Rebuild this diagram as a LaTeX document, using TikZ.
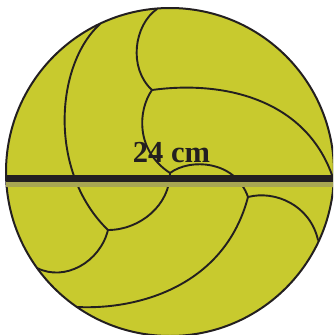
\documentclass[tikz,border=0pt]{standalone}
\usepackage{fontspec}
\setmainfont{Liberation Serif}
\definecolor{ballfill}{RGB}{200,202,46}
\definecolor{ink}{RGB}{35,31,32}
\definecolor{shade}{RGB}{168,166,82}

\begin{document}
\begin{tikzpicture}[x=1pt,y=-1pt,
  seam/.style={draw=ink,line width=1.9pt,line cap=round},
  rim/.style={draw=ink,line width=2pt},
  bar/.style={draw=ink,line width=7.2pt},
  barshade/.style={draw=shade,line width=5pt},
  measure/.style={font=\bfseries\fontsize{30.5}{31}\selectfont,text=ink,anchor=base,inner sep=0pt}]
\useasboundingbox (0,0) rectangle (333,335);
\clip (0,0) rectangle (333,335);

% ball body
\coordinate (O) at (170,172);
\fill[ballfill] (O) circle[radius=164pt];

% seam junctions and rim points
\coordinate (J1) at (152,90);
\coordinate (J2) at (170,173);
\coordinate (J3) at (248,197);
\coordinate (J4) at (108,230);
\coordinate (T1) at (157,9);
\coordinate (T2) at (100,24);
\coordinate (R1) at (332,175);
\coordinate (R2) at (318,240);
\coordinate (L1) at (37,268);
\coordinate (B1) at (77,307);

% panel seams
\draw[seam] (T1) .. controls (134,25) and (128,68) .. (J1);
\draw[seam] (J1) .. controls (225,80) and (305,100) .. (R1);
\draw[seam] (J1) .. controls (138,110) and (135,150) .. (J2);
\draw[seam] (J2) .. controls (190,158) and (235,160) .. (J3);
\draw[seam] (J2) .. controls (170,205) and (140,230) .. (J4);
\draw[seam] (T2) .. controls (55,65) and (48,172) .. (J4);
\draw[seam] (J4) .. controls (100,262) and (65,282) .. (L1);
\draw[seam] (J3) .. controls (275,190) and (310,205) .. (R2);
\draw[seam] (J3) .. controls (225,285) and (140,310) .. (B1);

% outline
\draw[rim] (O) circle[radius=164pt];

% diameter bar with its shadow
\coordinate (barL) at (6,178.4);
\coordinate (barR) at (333,178.4);
\coordinate (shL) at (6,184.4);
\coordinate (shR) at (333,184.4);
\draw[barshade] (shL) -- (shR);
\draw[bar] (barL) -- (barR);

% length label
\node[measure] (len) at (171.5,162.5) {24 cm};
\end{tikzpicture}
\end{document}
